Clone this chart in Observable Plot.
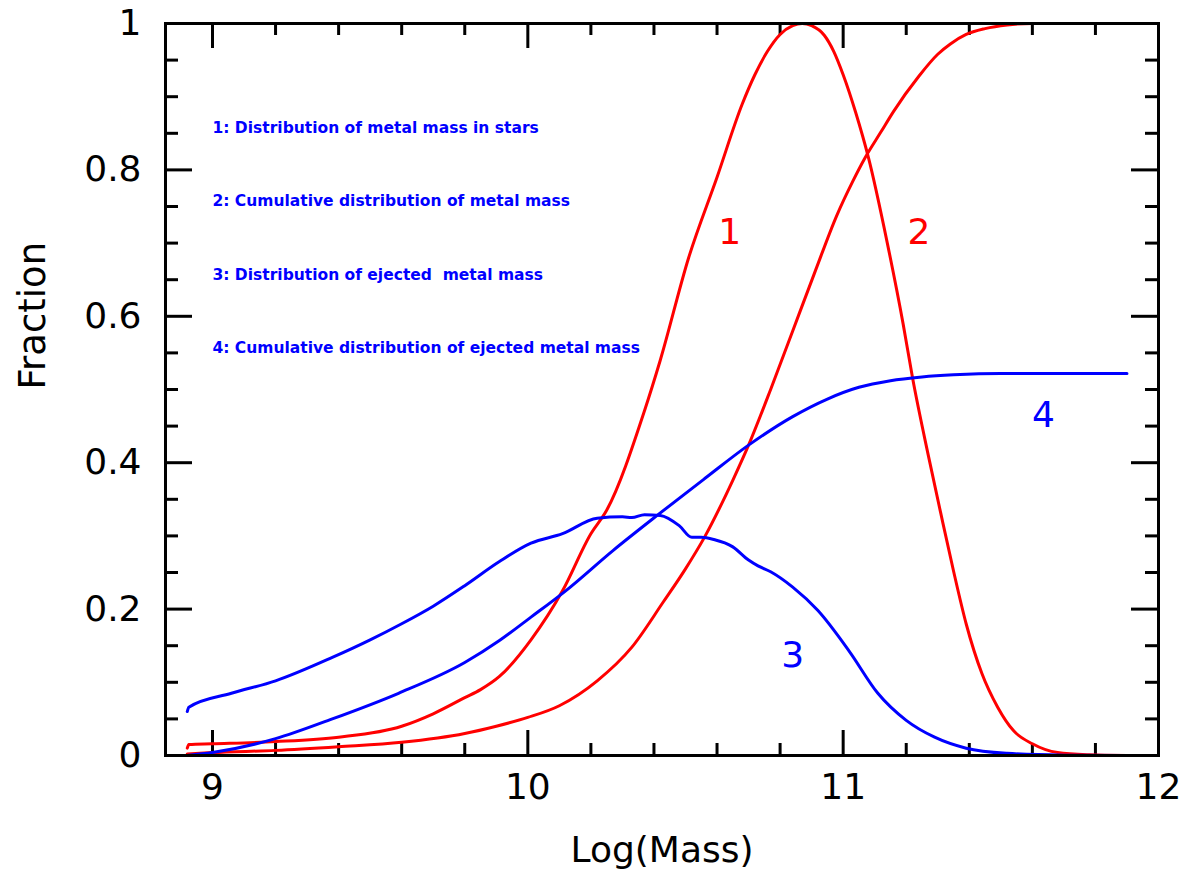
<!DOCTYPE html>
<html>
<head>
<meta charset="utf-8">
<script src="https://cdn.jsdelivr.net/npm/d3@7"></script>
<script src="https://cdn.jsdelivr.net/npm/@observablehq/plot@0.6"></script>
<style>
  html, body { margin: 0; padding: 0; background: #fff; }
  #chart svg { display: block; }
</style>
</head>
<body>
<div id="chart"></div>
<script>
// ---- Data ----
// Curve 1: distribution of metal mass in stars  [log mass, fraction]
const curve1 = [
  [8.92, 0.010], [8.925, 0.015], [9.0, 0.016], [9.2, 0.019], [9.4, 0.025], [9.6, 0.040],
  [9.7, 0.057], [9.8, 0.079], [9.85, 0.090], [9.91, 0.108], [10.01, 0.158], [10.11, 0.225],
  [10.20, 0.303], [10.25, 0.335], [10.37, 0.471], [10.42, 0.540], [10.51, 0.680],
  [10.60, 0.790], [10.68, 0.890], [10.72, 0.930], [10.76, 0.962], [10.80, 0.985],
  [10.84, 0.997], [10.87, 1.000], [10.90, 0.997], [10.94, 0.984], [10.97, 0.962],
  [11.00, 0.930], [11.04, 0.878], [11.08, 0.817], [11.14, 0.700],
  [11.19, 0.590], [11.22, 0.516], [11.27, 0.410], [11.31, 0.330], [11.35, 0.252],
  [11.39, 0.180], [11.44, 0.112], [11.49, 0.066], [11.54, 0.034], [11.60, 0.016],
  [11.68, 0.004], [11.78, 0.001], [11.90, 0.000]
];
// Curve 2: cumulative distribution of metal mass
const curve2 = [
  [8.92, 0.002], [9.0, 0.004], [9.2, 0.007], [9.4, 0.012], [9.6, 0.018], [9.8, 0.030],
  [9.9, 0.040], [10.0, 0.052], [10.1, 0.068], [10.22, 0.102], [10.33, 0.148],
  [10.43, 0.210], [10.50, 0.255], [10.56, 0.298], [10.65, 0.376], [10.70, 0.424],
  [10.77, 0.500], [10.84, 0.580], [10.91, 0.660], [10.98, 0.738], [11.03, 0.784],
  [11.07, 0.817], [11.12, 0.852], [11.16, 0.880], [11.24, 0.928], [11.30, 0.958],
  [11.34, 0.972], [11.39, 0.985], [11.45, 0.993], [11.52, 0.998], [11.60, 1.000], [11.90, 1.000]
];
// Curve 3: distribution of ejected metal mass
const curve3 = [
  [8.92, 0.060], [8.925, 0.066], [9.06, 0.085], [9.2, 0.102], [9.38, 0.134], [9.5, 0.158],
  [9.6, 0.180], [9.70, 0.204], [9.80, 0.232], [9.91, 0.265], [10.01, 0.290], [10.11, 0.303],
  [10.22, 0.324], [10.30, 0.326], [10.33, 0.325], [10.37, 0.329], [10.42, 0.328],
  [10.48, 0.314], [10.52, 0.298], [10.55, 0.298], [10.59, 0.295], [10.65, 0.285],
  [10.70, 0.267], [10.73, 0.259], [10.77, 0.251], [10.84, 0.230], [10.92, 0.198],
  [11.02, 0.142], [11.11, 0.085], [11.20, 0.048], [11.29, 0.025], [11.39, 0.010],
  [11.52, 0.003], [11.70, 0.0005], [11.90, 0.000]
];
// Curve 4: cumulative distribution of ejected metal mass
const curve4 = [
  [8.92, 0.000], [9.0, 0.004], [9.2, 0.023], [9.38, 0.050], [9.59, 0.085], [9.80, 0.127],
  [9.91, 0.157], [10.01, 0.189], [10.12, 0.225], [10.27, 0.280], [10.41, 0.328],
  [10.56, 0.378], [10.70, 0.424], [10.84, 0.463], [10.95, 0.487], [11.05, 0.503],
  [11.15, 0.512], [11.25, 0.517], [11.35, 0.520], [11.50, 0.522], [11.90, 0.522]
];

// Curve number labels (anchored in data coordinates)
const curveLabels = ["1", "2", "3", "4"];
const curveLabelX = [10.64, 11.24, 10.84, 11.635];
const curveLabelY = [0.714, 0.714, 0.137, 0.464];

// Legend lines (anchored in data coordinates)
const legendLines = [
  "1: Distribution of metal mass in stars",
  "2: Cumulative distribution of metal mass",
  "3: Distribution of ejected  metal mass",
  "4: Cumulative distribution of ejected metal mass"
];
const legendX = [9.0, 9.0, 9.0, 9.0];
const legendY = [0.857, 0.757, 0.657, 0.556];

// Axis ticks
const xMajor = [9, 10, 11, 12];
const xMinor = [9.2, 9.4, 9.6, 9.8, 10.2, 10.4, 10.6, 10.8, 11.2, 11.4, 11.6, 11.8];
const yMajor = [0, 0.2, 0.4, 0.6, 0.8, 1];
const yMinor = [0.05, 0.1, 0.15, 0.25, 0.3, 0.35, 0.45, 0.5, 0.55, 0.65, 0.7, 0.75, 0.85, 0.9, 0.95];

const xLabel = "Log(Mass)";
const yLabel = "Fraction";

// ---- Layout ----
const W = 1183, H = 876;
const mL = 165, mR = 25, mT = 23, mB = 121;
const innerW = W - mL - mR, innerH = H - mT - mB;
const RED = "#ff0000", BLUE = "#0000ff";
const FONT = "DejaVu Sans, sans-serif";

const toRows = (arr) => arr.map(([x, y]) => ({x, y}));
const lineOpts = (color) => ({x: "x", y: "y", stroke: color, strokeWidth: 3, curve: "monotone-x"});

const majX = 25, minX = 12, majY = 27, minY = 13;
const tickStyle = {stroke: "black", strokeWidth: 3};

const chart = Plot.plot({
  width: W,
  height: H,
  marginLeft: mL,
  marginRight: mR,
  marginTop: mT,
  marginBottom: mB,
  style: {fontFamily: FONT, background: "white"},
  x: {domain: [8.851, 12]},
  y: {domain: [0, 1]},
  marks: [
    // inward ticks on all four sides
    Plot.ruleX(xMajor, {x: d => d, insetTop: innerH - majX, ...tickStyle}),
    Plot.ruleX(xMinor, {x: d => d, insetTop: innerH - minX, ...tickStyle}),
    Plot.ruleX(xMajor, {x: d => d, insetBottom: innerH - majX, ...tickStyle}),
    Plot.ruleX(xMinor, {x: d => d, insetBottom: innerH - minX, ...tickStyle}),
    Plot.ruleY(yMajor, {y: d => d, insetRight: innerW - majY, ...tickStyle}),
    Plot.ruleY(yMinor, {y: d => d, insetRight: innerW - minY, ...tickStyle}),
    Plot.ruleY(yMajor, {y: d => d, insetLeft: innerW - majY, ...tickStyle}),
    Plot.ruleY(yMinor, {y: d => d, insetLeft: innerW - minY, ...tickStyle}),
    // tick labels
    Plot.axisX({ticks: xMajor, tickSize: 0, tickPadding: 18, fontSize: 36, label: null, tickFormat: d => String(d)}),
    Plot.axisY({ticks: yMajor, tickSize: 0, tickPadding: 24, fontSize: 36, label: null, tickFormat: d => String(d)}),
    // axis titles
    Plot.text([xLabel], {text: d => d, frameAnchor: "bottom", dy: 95, fontSize: 36, lineAnchor: "middle", fill: "black"}),
    Plot.text([yLabel], {text: d => d, frameAnchor: "left", dx: -132, rotate: -90, fontSize: 37, lineAnchor: "middle", fill: "black"}),
    // curves
    Plot.line(toRows(curve1), lineOpts(RED)),
    Plot.line(toRows(curve2), lineOpts(RED)),
    Plot.line(toRows(curve3), lineOpts(BLUE)),
    Plot.line(toRows(curve4), lineOpts(BLUE)),
    // curve number labels
    Plot.text(curveLabels, {
      x: (d, i) => curveLabelX[i], y: (d, i) => curveLabelY[i], text: d => d,
      fill: (d, i) => (i < 2 ? RED : BLUE), fontSize: 36, lineAnchor: "middle"
    }),
    // legend text
    Plot.text(legendLines, {
      x: (d, i) => legendX[i], y: (d, i) => legendY[i], text: d => d,
      fill: BLUE, fontSize: 15.5, fontWeight: "bold", textAnchor: "start", lineAnchor: "middle"
    }),
    Plot.frame({stroke: "black", strokeWidth: 3})
  ]
});
document.getElementById("chart").appendChild(chart);
</script>
</body>
</html>
